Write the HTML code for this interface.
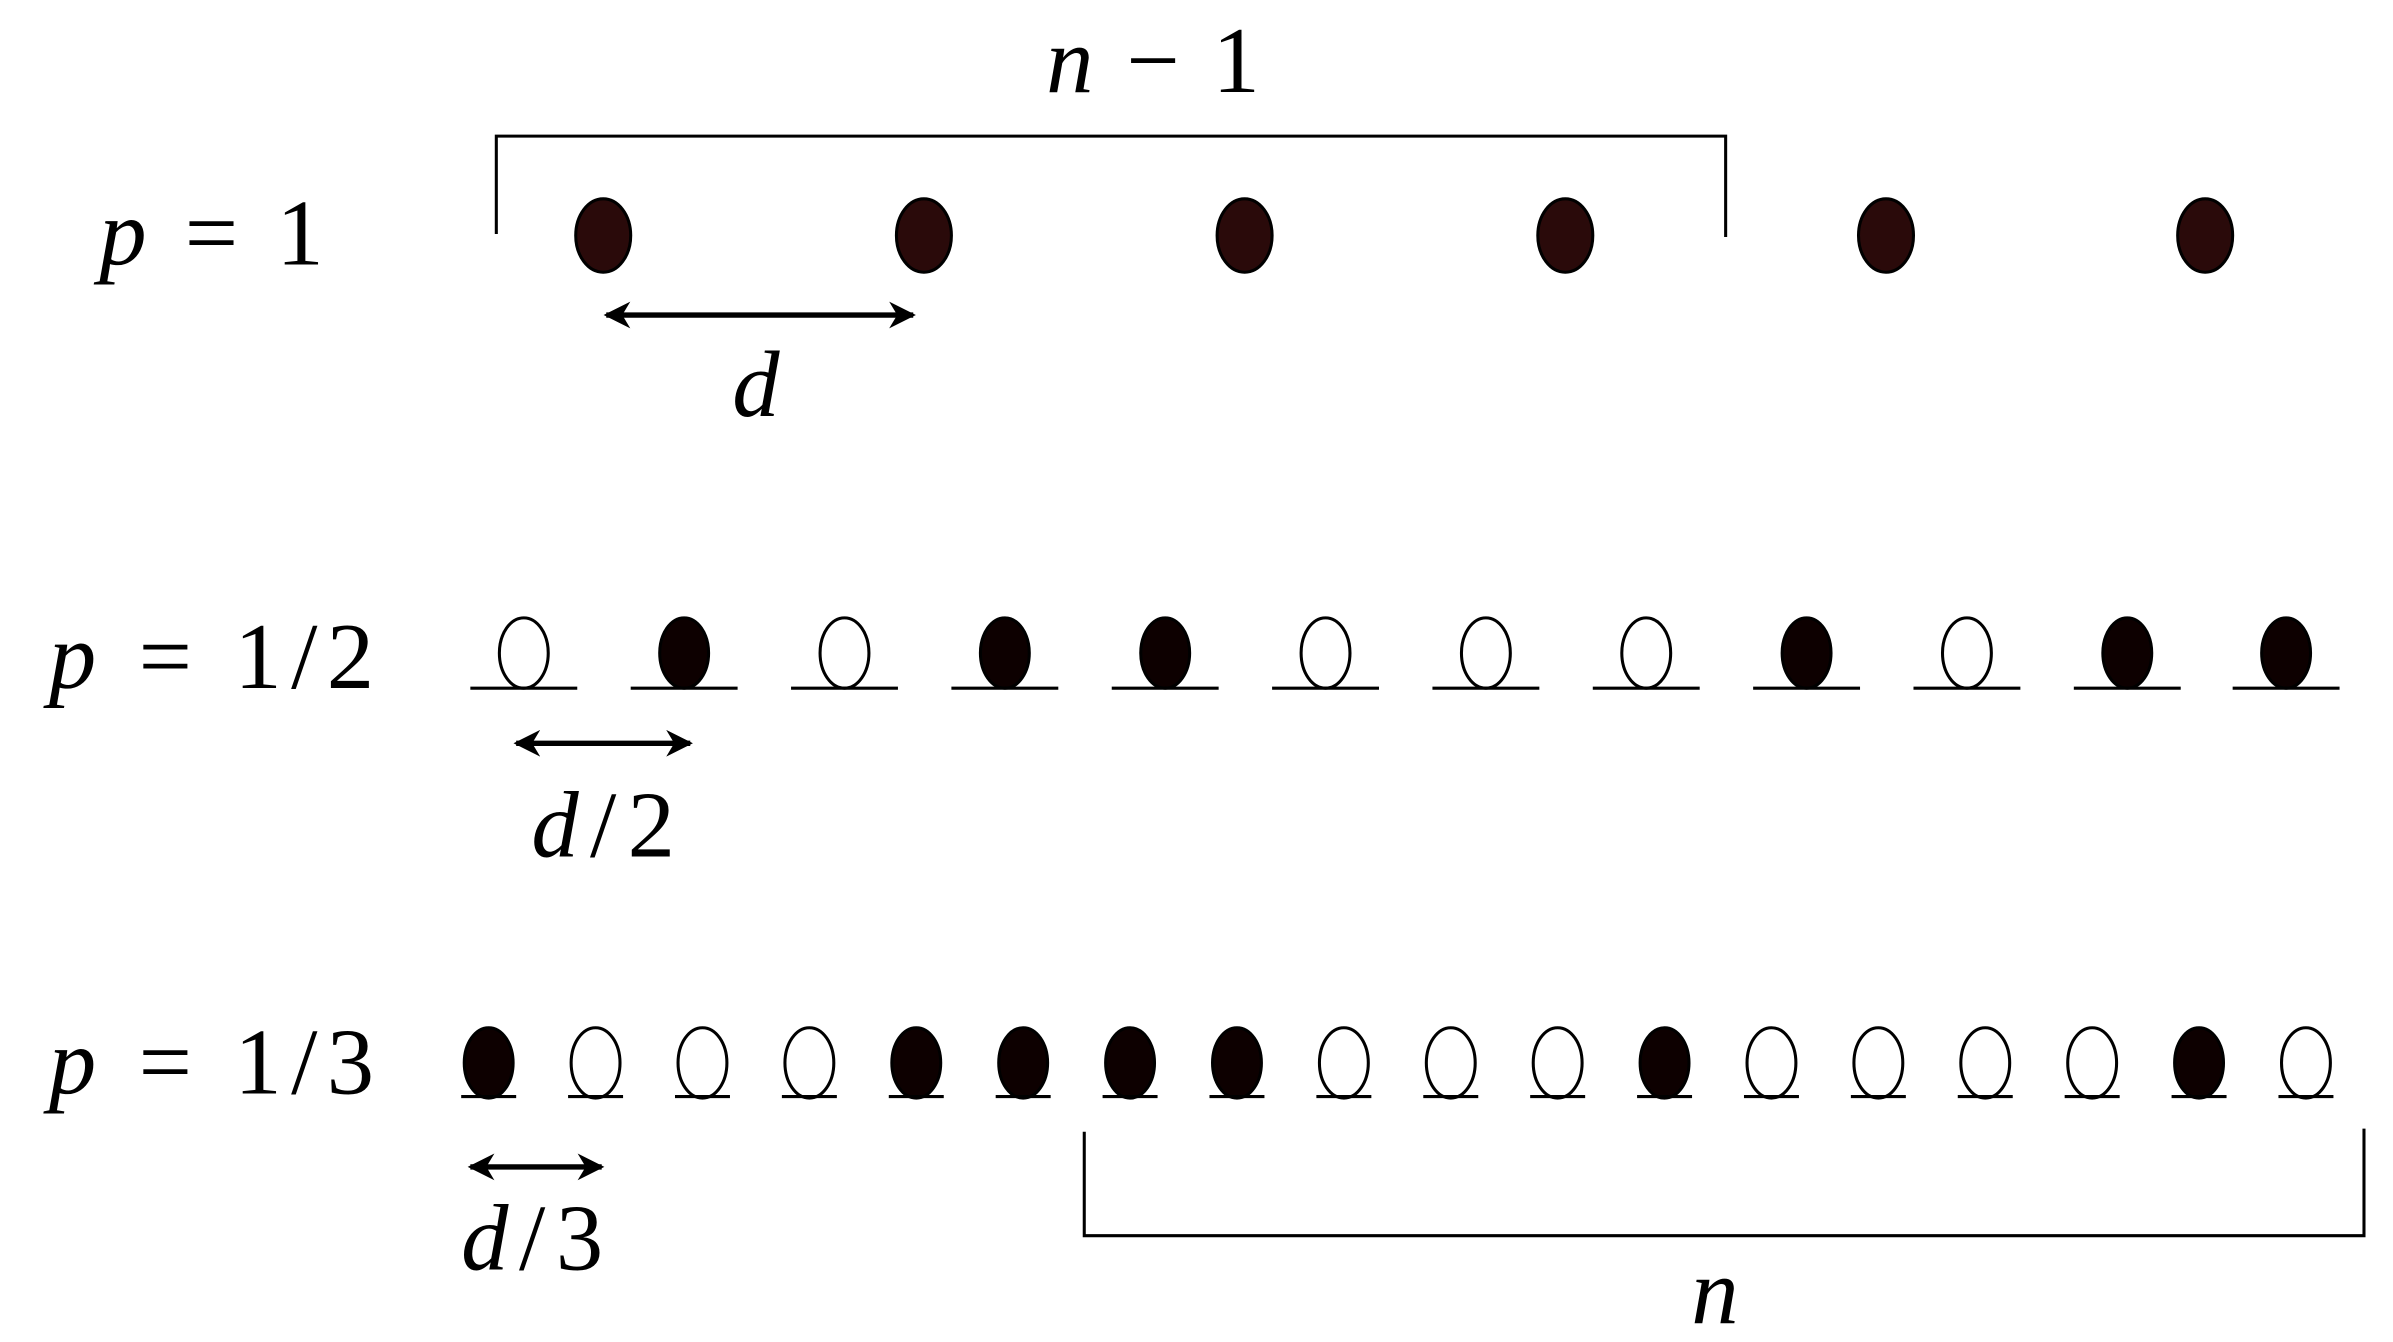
<!DOCTYPE html>
<html><head><meta charset="utf-8"><style>
html,body{margin:0;padding:0;background:#fff;}
svg{display:block;}
text{font-family:"Liberation Serif",serif;fill:#000;}
.i{font-style:italic;}
</style></head><body>
<svg width="2393" height="1342" viewBox="0 0 1567 877.5" preserveAspectRatio="none" xmlns="http://www.w3.org/2000/svg">
<defs>
<marker id="ah" viewBox="0 0 10 10" refX="9" refY="5" markerWidth="5" markerHeight="5" orient="auto-start-reverse">
<path d="M0,0 L10,5 L0,10 L3,5 z" fill="#000"/>
</marker>
</defs>
<!-- row 1 -->
<text x="65" y="173" font-size="62" textLength="147" lengthAdjust="spacing"><tspan class="i">p</tspan> = 1</text>
<text x="685" y="60" font-size="62" textLength="140" lengthAdjust="spacing"><tspan class="i">n</tspan> − 1</text>
<polyline points="325,153 325,89 1130,89 1130,155" fill="none" stroke="#000" stroke-width="2"/>
<g fill="#2a0a0a" stroke="#000" stroke-width="2">
<ellipse cx="395" cy="154" rx="18" ry="24"/>
<ellipse cx="605" cy="154" rx="18" ry="24"/>
<ellipse cx="815" cy="154" rx="18" ry="24"/>
<ellipse cx="1025" cy="154" rx="18" ry="24"/>
<ellipse cx="1235" cy="154" rx="18" ry="24"/>
<ellipse cx="1444" cy="154" rx="18" ry="24"/>
</g>
<line x1="397" y1="206" x2="598" y2="206" stroke="#000" stroke-width="3.5" marker-start="url(#ah)" marker-end="url(#ah)"/>
<text x="495" y="272" font-size="62" class="i" text-anchor="middle">d</text>
<!-- row 2 -->
<text x="32" y="450" font-size="62" textLength="213" lengthAdjust="spacing"><tspan class="i">p</tspan> = 1/2</text>
<line x1="338" y1="486" x2="452" y2="486" stroke="#000" stroke-width="3.5" marker-start="url(#ah)" marker-end="url(#ah)"/>
<text x="348" y="560" font-size="62" textLength="94" lengthAdjust="spacing"><tspan class="i">d</tspan>/2</text>
<!-- row 3 -->
<text x="32" y="715" font-size="62" textLength="213" lengthAdjust="spacing"><tspan class="i">p</tspan> = 1/3</text>
<line x1="308" y1="763" x2="394" y2="763" stroke="#000" stroke-width="3.5" marker-start="url(#ah)" marker-end="url(#ah)"/>
<text x="302" y="830" font-size="62" textLength="93" lengthAdjust="spacing"><tspan class="i">d</tspan>/3</text>
<polyline points="710,740 710,808 1548,808 1548,738" fill="none" stroke="#000" stroke-width="2"/>
<text x="1123" y="865" font-size="62" class="i" text-anchor="middle">n</text>
<!-- row 2 ellipses -->
<g stroke="#000" stroke-width="2">
<ellipse cx="343" cy="427" rx="16" ry="23" fill="#fff"/><line x1="308" y1="450" x2="378" y2="450"/>
<ellipse cx="448" cy="427" rx="16" ry="23" fill="#0d0000"/><line x1="413" y1="450" x2="483" y2="450"/>
<ellipse cx="553" cy="427" rx="16" ry="23" fill="#fff"/><line x1="518" y1="450" x2="588" y2="450"/>
<ellipse cx="658" cy="427" rx="16" ry="23" fill="#0d0000"/><line x1="623" y1="450" x2="693" y2="450"/>
<ellipse cx="763" cy="427" rx="16" ry="23" fill="#0d0000"/><line x1="728" y1="450" x2="798" y2="450"/>
<ellipse cx="868" cy="427" rx="16" ry="23" fill="#fff"/><line x1="833" y1="450" x2="903" y2="450"/>
<ellipse cx="973" cy="427" rx="16" ry="23" fill="#fff"/><line x1="938" y1="450" x2="1008" y2="450"/>
<ellipse cx="1078" cy="427" rx="16" ry="23" fill="#fff"/><line x1="1043" y1="450" x2="1113" y2="450"/>
<ellipse cx="1183" cy="427" rx="16" ry="23" fill="#0d0000"/><line x1="1148" y1="450" x2="1218" y2="450"/>
<ellipse cx="1288" cy="427" rx="16" ry="23" fill="#fff"/><line x1="1253" y1="450" x2="1323" y2="450"/>
<ellipse cx="1393" cy="427" rx="16" ry="23" fill="#0d0000"/><line x1="1358" y1="450" x2="1428" y2="450"/>
<ellipse cx="1497" cy="427" rx="16" ry="23" fill="#0d0000"/><line x1="1462" y1="450" x2="1532" y2="450"/>
</g>
<!-- row 3 ellipses -->
<g stroke="#000" stroke-width="2">
<ellipse cx="320" cy="695" rx="16" ry="23" fill="#0d0000"/><line x1="302" y1="717" x2="338" y2="717"/>
<ellipse cx="390" cy="695" rx="16" ry="23" fill="#fff"/><line x1="372" y1="717" x2="408" y2="717"/>
<ellipse cx="460" cy="695" rx="16" ry="23" fill="#fff"/><line x1="442" y1="717" x2="478" y2="717"/>
<ellipse cx="530" cy="695" rx="16" ry="23" fill="#fff"/><line x1="512" y1="717" x2="548" y2="717"/>
<ellipse cx="600" cy="695" rx="16" ry="23" fill="#0d0000"/><line x1="582" y1="717" x2="618" y2="717"/>
<ellipse cx="670" cy="695" rx="16" ry="23" fill="#0d0000"/><line x1="652" y1="717" x2="688" y2="717"/>
<ellipse cx="740" cy="695" rx="16" ry="23" fill="#0d0000"/><line x1="722" y1="717" x2="758" y2="717"/>
<ellipse cx="810" cy="695" rx="16" ry="23" fill="#0d0000"/><line x1="792" y1="717" x2="828" y2="717"/>
<ellipse cx="880" cy="695" rx="16" ry="23" fill="#fff"/><line x1="862" y1="717" x2="898" y2="717"/>
<ellipse cx="950" cy="695" rx="16" ry="23" fill="#fff"/><line x1="932" y1="717" x2="968" y2="717"/>
<ellipse cx="1020" cy="695" rx="16" ry="23" fill="#fff"/><line x1="1002" y1="717" x2="1038" y2="717"/>
<ellipse cx="1090" cy="695" rx="16" ry="23" fill="#0d0000"/><line x1="1072" y1="717" x2="1108" y2="717"/>
<ellipse cx="1160" cy="695" rx="16" ry="23" fill="#fff"/><line x1="1142" y1="717" x2="1178" y2="717"/>
<ellipse cx="1230" cy="695" rx="16" ry="23" fill="#fff"/><line x1="1212" y1="717" x2="1248" y2="717"/>
<ellipse cx="1300" cy="695" rx="16" ry="23" fill="#fff"/><line x1="1282" y1="717" x2="1318" y2="717"/>
<ellipse cx="1370" cy="695" rx="16" ry="23" fill="#fff"/><line x1="1352" y1="717" x2="1388" y2="717"/>
<ellipse cx="1440" cy="695" rx="16" ry="23" fill="#0d0000"/><line x1="1422" y1="717" x2="1458" y2="717"/>
<ellipse cx="1510" cy="695" rx="16" ry="23" fill="#fff"/><line x1="1492" y1="717" x2="1528" y2="717"/>
</g>
</svg>
</body></html>
